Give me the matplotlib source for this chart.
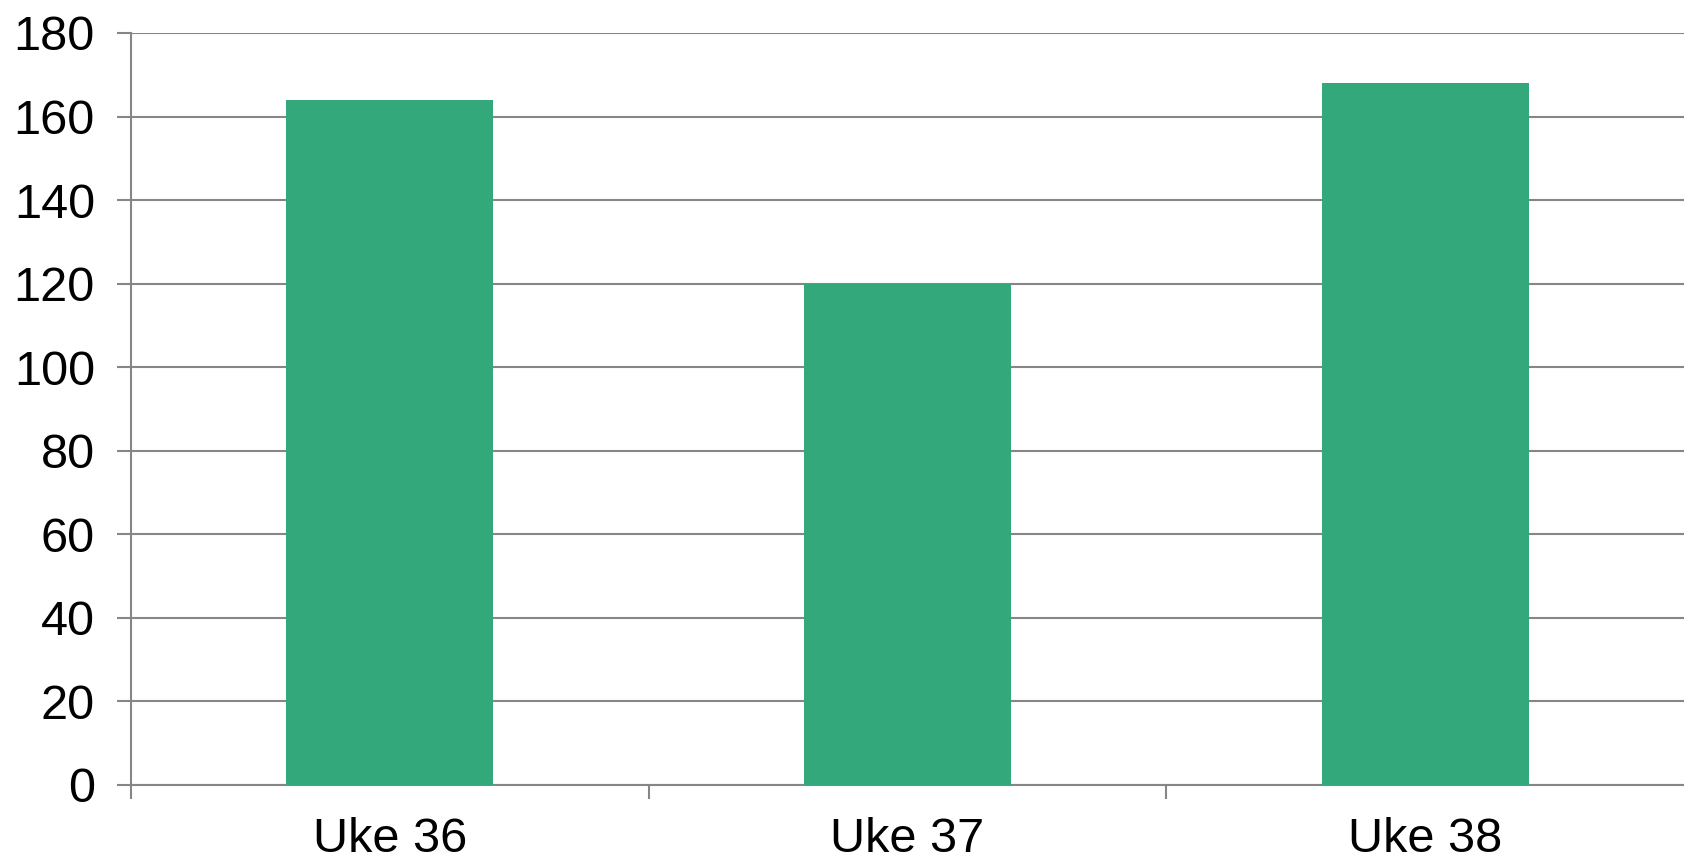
import matplotlib
matplotlib.use("Agg")
import matplotlib.pyplot as plt
import numpy as np

# data
uker = ["Uke 36", "Uke 37", "Uke 38"]
antall = [164, 120, 168]

plt.rcParams["font.family"] = ["Liberation Sans", "DejaVu Sans"]

fig = plt.figure(figsize=(16.84, 8.61), dpi=100)
ax = fig.add_axes([0.0778, 0.0883, 0.9222, 0.8734])

x = np.arange(len(uker))
ax.bar(x, antall, width=0.4, color="#33A97B", zorder=3)

ax.set_xlim(-0.5, len(uker) - 0.5)
ax.set_ylim(0, 180)
ax.set_yticks(range(0, 181, 20))
ax.set_xticks(x)
ax.set_xticklabels(uker)
ax.set_xticks(np.arange(-0.5, len(uker) - 1, 1.0), minor=True)

grå = "#868686"
ax.grid(axis="y", color=grå, linewidth=1.5, zorder=0)
for s in ["top", "right"]:
    ax.spines[s].set_visible(False)
ax.spines["left"].set_color(grå)
ax.spines["bottom"].set_color(grå)
ax.spines["left"].set_linewidth(1.5)
ax.spines["bottom"].set_linewidth(1.5)

ax.tick_params(axis="y", length=10, width=1.5, color=grå, labelsize=35, pad=16)
ax.tick_params(axis="x", which="major", length=0, labelsize=35, pad=23)
ax.tick_params(axis="x", which="minor", length=10, width=1.5, color=grå)

fig.savefig("out.png", dpi=100)
